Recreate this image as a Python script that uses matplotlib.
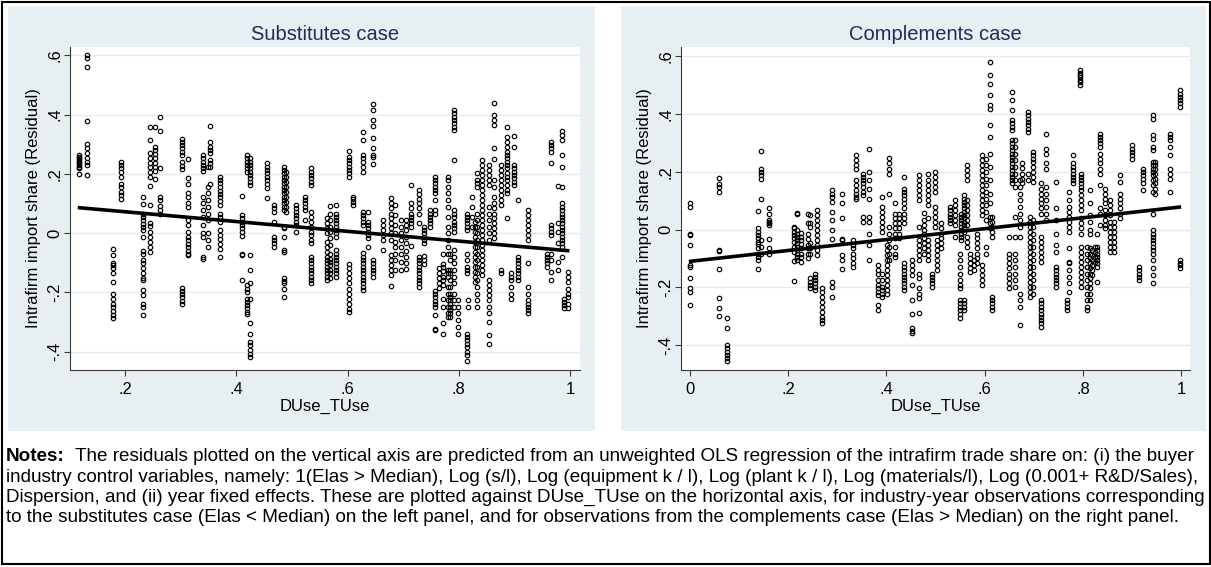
import numpy as np
import matplotlib
matplotlib.use('Agg')
import matplotlib.pyplot as plt
from matplotlib.patches import Rectangle

plt.rcParams['font.family'] = ['Liberation Sans', 'DejaVu Sans']

W, H = 1211, 567

# ---- substitutes case: x position of each vertical strip, and the residuals in it
sub_x = [0.118, 0.131, 0.179, 0.193, 0.232, 0.244, 0.254, 0.263, 0.302, 0.313,
         0.340, 0.349, 0.353, 0.371, 0.410, 0.419, 0.425, 0.455, 0.467, 0.486,
         0.490, 0.508, 0.523, 0.534, 0.563, 0.569, 0.580, 0.603, 0.610, 0.627,
         0.637, 0.645, 0.663, 0.678, 0.685, 0.697, 0.705, 0.715, 0.728, 0.737,
         0.748, 0.757, 0.764, 0.772, 0.780, 0.784, 0.791, 0.799, 0.814, 0.817,
         0.823, 0.829, 0.833, 0.841, 0.854, 0.864, 0.876, 0.887, 0.894, 0.900,
         0.906, 0.924, 0.958, 0.966, 0.978, 0.986, 0.989, 0.997]
sub_y = [
    [0.263, 0.257, 0.252, 0.246, 0.241, 0.235, 0.230, 0.224, 0.218, 0.199],
    [0.601, 0.590, 0.562, 0.378, 0.300, 0.286, 0.269, 0.254, 0.241, 0.230, 0.196],
    [-0.052, -0.074, -0.100, -0.108, -0.119, -0.134, -0.164, -0.204, -0.221, -0.238, -0.249, -0.262, -0.277, -0.288],
    [0.241, 0.230, 0.218, 0.207, 0.190, 0.165, 0.154, 0.140, 0.128, 0.114],
    [0.123, 0.098, 0.066, 0.055, 0.044, 0.030, 0.019, 0.010, -0.012, -0.060, -0.071, -0.091, -0.102, -0.119, -0.136, -0.153, -0.159, -0.193, -0.210, -0.238, -0.249, -0.277],
    [0.357, 0.314, 0.269, 0.252, 0.238, 0.224, 0.207, 0.190, 0.159, 0.095, 0.033, 0.024, 0.005, -0.012, -0.029, -0.046, -0.063],
    [0.359, 0.292, 0.280, 0.267, 0.252, 0.235, 0.224, 0.211, 0.181],
    [0.393, 0.346, 0.221, 0.123, 0.111, 0.091, 0.078, 0.066],
    [0.318, 0.309, 0.297, 0.286, 0.273, 0.264, 0.239, 0.226, 0.215, -0.184, -0.195, -0.206, -0.217, -0.229, -0.240],
    [0.249, 0.185, 0.166, 0.136, 0.123, 0.100, 0.089, 0.044, 0.027, 0.004, -0.012, -0.024, -0.037, -0.048, -0.060, -0.069, -0.074],
    [0.263, 0.252, 0.241, 0.230, 0.218, 0.211, 0.123, 0.102, 0.078, 0.055, 0.027, -0.001, -0.012, -0.080, -0.086],
    [0.224, 0.157, 0.134, 0.111, 0.089, 0.066, 0.044, -0.001, -0.024, -0.046],
    [0.361, 0.309, 0.292, 0.280, 0.269, 0.247, 0.235, 0.222, 0.165],
    [0.188, 0.179, 0.168, 0.157, 0.143, 0.132, 0.123, 0.109, 0.095, 0.066, 0.055, 0.038, 0.012, -0.007, -0.021, -0.037, -0.052, -0.080],
    [0.125, 0.061, 0.050, 0.038, 0.027, 0.016, 0.004, -0.010, -0.069, -0.074, -0.159],
    [0.263, 0.252, 0.241, 0.230, 0.218, 0.207, -0.176, -0.187, -0.198, -0.221, -0.232, -0.243, -0.254, -0.266, -0.274],
    [0.252, 0.241, 0.230, 0.218, 0.207, 0.196, 0.185, 0.173, 0.162, -0.074, -0.125, -0.168, -0.221, -0.305, -0.339, -0.367, -0.378, -0.395, -0.407, -0.418],
    [0.235, 0.224, 0.213, 0.202, 0.190, 0.179, 0.165, 0.151, 0.117],
    [0.095, 0.083, 0.072, 0.038, -0.012, -0.024, -0.035, -0.046],
    [0.224, 0.213, 0.202, 0.190, 0.179, 0.168, 0.157, 0.145, 0.134, 0.123, 0.111, 0.100, 0.089, 0.078, 0.021, 0.016, -0.012, -0.057, -0.063, -0.153, -0.161, -0.170, -0.187, -0.215],
    [0.207, 0.190, 0.173, 0.157, 0.140, 0.123, 0.106, 0.089, 0.072],
    [0.095, 0.083, 0.072, 0.061, 0.050, 0.038, 0.027, 0.004],
    [0.123, 0.111, 0.100, 0.089, 0.078, 0.044],
    [0.218, 0.207, 0.196, 0.185, 0.173, 0.162, 0.072, 0.055, 0.038, 0.021, 0.004, -0.007, -0.024, -0.035, -0.080, -0.091, -0.102, -0.114, -0.125, -0.136, -0.147, -0.159, -0.170],
    [0.050, 0.033, 0.016, -0.001, -0.029, -0.046, -0.063, -0.080, -0.091, -0.102, -0.114, -0.125, -0.136, -0.147, -0.159],
    [0.092, 0.066, 0.044, 0.021, 0.004, -0.018, -0.041, -0.069, -0.086, -0.097, -0.108, -0.125, -0.136, -0.150],
    [0.095, 0.066, 0.055, 0.044, 0.033, 0.021, 0.010, -0.001, -0.012, -0.057, -0.069, -0.080, -0.091, -0.102, -0.114, -0.125, -0.136, -0.147],
    [0.278, 0.258, 0.247, 0.235, 0.224, 0.213, 0.202, 0.190, -0.105, -0.119, -0.136, -0.153, -0.170, -0.187, -0.204, -0.221, -0.238, -0.255, -0.266],
    [0.123, 0.114, 0.105, 0.096],
    [0.342, 0.314, 0.263, 0.252, 0.241, 0.224, 0.207, 0.072, 0.061, 0.050, 0.038, 0.027, -0.066, -0.080, -0.091, -0.102, -0.114, -0.125, -0.136, -0.147, -0.159, -0.170, -0.181, -0.193],
    [0.072, 0.038, 0.027, 0.016, 0.004, -0.007, -0.018, -0.046],
    [0.436, 0.416, 0.382, 0.362, 0.320, 0.286, 0.263, 0.258, 0.233, -0.091, -0.102, -0.114, -0.125, -0.136, -0.147],
    [0.044, 0.027, 0.010, -0.007, -0.024, -0.057],
    [0.117, 0.100, 0.083, 0.066, 0.050, 0.033, 0.016, -0.001, -0.024, -0.074, -0.091, -0.108, -0.125, -0.142, -0.179],
    [0.095, 0.061, 0.027, -0.001, -0.029, -0.046, -0.069, -0.091, -0.125],
    [0.044, 0.021, -0.001, -0.024, -0.046, -0.069, -0.097, -0.125],
    [0.044, 0.027, 0.010, -0.012, -0.035, -0.060, -0.080, -0.100, -0.120],
    [0.162, 0.100, 0.083, 0.066, 0.055, 0.044, 0.033, 0.021, -0.044],
    [0.147, 0.132, 0.114, 0.100, 0.083, 0.066, 0.035, -0.080, -0.091, -0.102, -0.114, -0.125, -0.136, -0.147, -0.159, -0.170, -0.181],
    [0.021, 0.010, -0.001, -0.012, -0.024, -0.035, -0.078, -0.091, -0.105],
    [0.078, 0.066, 0.055, 0.044, 0.033, 0.021],
    [0.190, 0.179, 0.168, 0.157, 0.145, 0.134, 0.111, 0.078, 0.066, -0.195, -0.206, -0.217, -0.229, -0.240, -0.251, -0.277, -0.322, -0.328],
    [-0.119, -0.136, -0.153, -0.170, -0.184],
    [-0.069, -0.105, -0.116, -0.127, -0.147, -0.159, -0.176, -0.221, -0.249, -0.305, -0.341],
    [0.190, 0.179, 0.157, 0.134, 0.111, 0.089, 0.055, 0.021, -0.001, -0.024, -0.046, -0.069, -0.125, -0.136, -0.147, -0.181, -0.204, -0.226, -0.249, -0.271, -0.283],
    [-0.069, -0.091, -0.125, -0.136, -0.159, -0.181, -0.204, -0.215, -0.226, -0.238, -0.249, -0.260, -0.271, -0.283],
    [0.416, 0.404, 0.393, 0.382, 0.371, 0.359, 0.348, 0.247, 0.078, 0.066, 0.055, 0.038, 0.027, 0.016, 0.004, -0.057, -0.080, -0.102, -0.125, -0.147, -0.170, -0.204, -0.226, -0.249],
    [-0.226, -0.249, -0.271, -0.294, -0.316, -0.339],
    [0.066, 0.055, 0.044, 0.033, 0.021, 0.010, -0.069, -0.091, -0.114, -0.125, -0.136, -0.339, -0.350, -0.361, -0.373, -0.384, -0.401, -0.412, -0.431],
    [-0.226, -0.249],
    [0.123, 0.089, 0.055, 0.021],
    [0.038, 0.021, 0.004, -0.012, -0.029, -0.046, -0.063, -0.080, -0.097, -0.114, -0.131, -0.147, -0.164],
    [0.202, 0.179, 0.168, 0.157, 0.066, 0.044, 0.021, -0.001, -0.024, -0.046, -0.069, -0.091, -0.114, -0.136, -0.159, -0.181, -0.204, -0.226, -0.249],
    [0.247, 0.230, 0.213, 0.196, 0.179, 0.162, 0.145, 0.128, 0.111, 0.095, 0.078, 0.061, 0.044, 0.027, 0.010, -0.007, -0.024, -0.041, -0.057, -0.074, -0.091, -0.108, -0.125, -0.142],
    [0.230, 0.213, 0.196, 0.179, 0.162, 0.089, 0.066, 0.044, 0.021, -0.001, -0.024, -0.159, -0.176, -0.193, -0.209, -0.226, -0.249, -0.271, -0.300, -0.345, -0.373],
    [0.440, 0.399, 0.382, 0.365, 0.286, 0.249, 0.179, 0.157, 0.123, 0.100, 0.083, 0.066, 0.050, 0.033, 0.016, -0.001, -0.018],
    [0.230, 0.213, 0.196, 0.179, 0.162, 0.145, 0.128, 0.111, 0.095, -0.125, -0.136],
    [0.357, 0.325, 0.308, 0.292, 0.275, 0.264, 0.252, 0.241, 0.230, 0.218, 0.202, 0.190, 0.179, 0.162, 0.145, 0.134, 0.050],
    [-0.136, -0.147, -0.159, -0.181, -0.204, -0.221],
    [0.328, 0.292, 0.230, 0.218, 0.207, 0.196, 0.185, 0.173, 0.162],
    [0.111, -0.080, -0.091, -0.102, -0.114, -0.125, -0.136, -0.147, -0.159],
    [0.078, 0.061, 0.044, 0.027, 0.010, -0.007, -0.024, -0.102, -0.181, -0.204, -0.226, -0.238, -0.249, -0.260, -0.271],
    [-0.069, -0.080, -0.091, -0.102, -0.114],
    [0.309, 0.297, 0.286, 0.275, 0.235, 0.027, 0.016, 0.004, -0.007, -0.069, -0.091, -0.131, -0.159],
    [0.159, 0.035, 0.004, -0.035, -0.097, -0.125],
    [0.346, 0.331, 0.314, 0.263, 0.224, 0.157, 0.100, 0.089, 0.078, 0.066, 0.055, 0.044, 0.033, 0.021, 0.010, -0.001, -0.012, -0.024, -0.035, -0.046, -0.080],
    [-0.221, -0.232, -0.243, -0.254],
    [-0.131, -0.147, -0.164, -0.187, -0.204, -0.215, -0.238, -0.254],
]
sub_fit = (0.105, -0.165)   # intercept, slope of the drawn fitted line

# ---- complements case
comp_x = [0.001, 0.060, 0.075, 0.139, 0.145, 0.162, 0.211, 0.219, 0.226, 0.240,
          0.245, 0.254, 0.258, 0.268, 0.289, 0.310, 0.333, 0.338, 0.353, 0.365,
          0.383, 0.391, 0.401, 0.406, 0.417, 0.425, 0.435, 0.453, 0.467, 0.476,
          0.484, 0.493, 0.499, 0.504, 0.512, 0.529, 0.539, 0.549, 0.552, 0.557,
          0.564, 0.571, 0.578, 0.585, 0.594, 0.603, 0.611, 0.614, 0.649, 0.655,
          0.661, 0.673, 0.677, 0.688, 0.693, 0.698, 0.714, 0.715, 0.724, 0.746,
          0.767, 0.771, 0.780, 0.795, 0.797, 0.808, 0.815, 0.819, 0.824, 0.829,
          0.835, 0.846, 0.856, 0.863, 0.875, 0.900, 0.915, 0.923, 0.942, 0.947,
          0.977, 0.998]
comp_y = [
    [0.090, 0.078, -0.017, -0.019, -0.054, -0.123, -0.129, -0.169, -0.203, -0.215, -0.261],
    [0.179, 0.156, 0.147, 0.128, -0.071, -0.073, -0.137, -0.238, -0.270, -0.299],
    [-0.307, -0.341, -0.399, -0.410, -0.422, -0.433, -0.445, -0.453],
    [0.064, 0.004, -0.008, -0.020, -0.031, -0.043, -0.051, -0.065, -0.083, -0.094, -0.106, -0.138],
    [0.270, 0.210, 0.199, 0.187, 0.176, 0.104, -0.037, -0.060, -0.083],
    [0.073, 0.055, 0.032, 0.027, 0.021, 0.015, -0.034, -0.065, -0.083],
    [0.009, 0.004, -0.008, -0.020, -0.031, -0.043, -0.060, -0.077, -0.108, -0.177],
    [0.058, 0.055, -0.002, -0.014, -0.025, -0.037, -0.048, -0.060, -0.071, -0.083, -0.094, -0.106],
    [-0.011, -0.025, -0.037, -0.050, -0.065, -0.083, -0.094, -0.111],
    [0.055, 0.021, -0.014, -0.034, -0.054, -0.065, -0.083, -0.100],
    [0.050, 0.023, 0.009, -0.048, -0.065, -0.083, -0.169, -0.180, -0.192, -0.203],
    [-0.152, -0.163, -0.175, -0.186, -0.198, -0.209],
    [0.067, 0.050, 0.033, 0.015, -0.002, -0.019, -0.036, -0.054, -0.071, -0.088],
    [-0.203, -0.215, -0.232, -0.249, -0.267, -0.284, -0.301, -0.313, -0.324],
    [0.136, 0.124, 0.113, 0.096, 0.061, 0.032, -0.002, -0.034, -0.180, -0.198, -0.234],
    [0.124, 0.090, 0.038, -0.034, -0.037, -0.088, -0.106, -0.138],
    [-0.037, -0.054, -0.065, -0.083, -0.100, -0.117, -0.129],
    [0.256, 0.239, 0.222, 0.210, 0.170, 0.153, 0.136, 0.124, 0.113, 0.104],
    [0.193, 0.182, 0.170, 0.159, 0.147, 0.130, 0.119, 0.044, 0.027],
    [0.279, 0.199, 0.170, 0.141, 0.104, 0.044, 0.027, -0.016, -0.054, -0.106],
    [-0.123, -0.140, -0.152, -0.175, -0.192, -0.203, -0.215, -0.226, -0.261, -0.278],
    [0.113, 0.078, 0.061, 0.044, 0.027, 0.009, -0.008, -0.152, -0.175, -0.198, -0.209, -0.221, -0.232],
    [-0.054, -0.071, -0.088, -0.106, -0.123, -0.140, -0.157, -0.175, -0.192, -0.209, -0.221],
    [0.248, 0.228, 0.210, 0.193, 0.124, 0.009, -0.014, -0.037, -0.060, -0.083, -0.106],
    [0.090, 0.055, 0.038, 0.021, 0.004, -0.014, -0.031, -0.060, -0.083, -0.094],
    [0.055, 0.038, 0.021, 0.004, -0.014, -0.031],
    [0.182, 0.141, 0.130, 0.119, 0.107, 0.090, 0.073, 0.055, 0.038, 0.021, -0.117, -0.129, -0.140, -0.152, -0.163, -0.175, -0.186, -0.198, -0.209],
    [-0.106, -0.123, -0.140, -0.157, -0.192, -0.244, -0.290, -0.341, -0.349, -0.358],
    [0.188, 0.170, 0.153, 0.136, 0.119, 0.101, 0.009, -0.037, -0.054, -0.071, -0.088, -0.106, -0.152, -0.169, -0.203, -0.221, -0.238, -0.287],
    [0.058, 0.032, 0.015, -0.002, -0.014, -0.031, -0.048, -0.065, -0.083],
    [0.193, 0.170, 0.153, 0.136, 0.119, 0.101, 0.084, 0.038, -0.037, -0.054, -0.071, -0.088, -0.106],
    [-0.152, -0.163, -0.175, -0.186, -0.198],
    [0.199, 0.182, 0.164, 0.147, 0.130, 0.078, 0.061, 0.044, 0.027, 0.009],
    [-0.037, -0.054, -0.071, -0.088, -0.106, -0.123, -0.140],
    [0.021, 0.004, -0.014, -0.031, -0.048, -0.065],
    [0.078, 0.067, 0.055, 0.044, 0.032, 0.021],
    [0.101, 0.084, 0.067, 0.050, 0.032, 0.015, -0.025],
    [-0.083, -0.106, -0.129, -0.152, -0.175, -0.192, -0.203, -0.244, -0.255, -0.267, -0.278, -0.290, -0.307],
    [0.055, 0.044, 0.032, 0.021, 0.009, -0.002, -0.014, -0.025, -0.037],
    [0.119, 0.107, 0.096, 0.084, 0.073, 0.061, 0.050, 0.038, 0.027, 0.015, 0.004, -0.008, -0.244, -0.255, -0.267, -0.278],
    [0.222, 0.205, 0.187, 0.170, 0.101, 0.084, 0.067, 0.050, 0.032, 0.015, -0.025, -0.042, -0.060],
    [-0.083, -0.100, -0.117, -0.134, -0.146],
    [-0.106, -0.123, -0.140],
    [-0.014, -0.031, -0.048, -0.065, -0.083, -0.100, -0.117],
    [0.256, 0.239, 0.222, 0.205, 0.187, 0.170, 0.153, 0.136, 0.119, 0.101, 0.084, 0.067, 0.050, -0.123, -0.140, -0.157, -0.175, -0.192],
    [0.245, 0.222, 0.199, 0.176, 0.153, 0.130, 0.107, 0.084, 0.061, 0.032, -0.060, -0.083],
    [0.578, 0.532, 0.503, 0.463, 0.429, 0.417, 0.360, 0.320, 0.262, 0.216, 0.170, 0.124, 0.090, 0.044, 0.021, 0.004],
    [0.044, 0.027, 0.009, -0.008, -0.025, -0.232, -0.244, -0.255, -0.267, -0.278],
    [-0.025, -0.083, -0.100, -0.117, -0.134, -0.152, -0.169, -0.186, -0.203],
    [0.475, 0.446, 0.412, 0.377, 0.366, 0.354, 0.343, 0.308, 0.297, 0.285, 0.274, 0.262, 0.251, 0.239, 0.228, 0.216, 0.205, 0.193, 0.182, 0.170, 0.159],
    [0.308, 0.285, 0.262, 0.239, 0.216, 0.193, 0.170, 0.147, 0.044, -0.025, -0.083, -0.106, -0.129, -0.152, -0.175, -0.198],
    [0.170, 0.147, 0.124, 0.101, 0.078, 0.055, 0.032, 0.009, -0.025, -0.221, -0.244, -0.267, -0.330],
    [0.228, 0.211, 0.193, 0.176, 0.159],
    [0.406, 0.394, 0.383, 0.371, 0.360, 0.348, 0.337, 0.193, 0.170],
    [0.044, 0.027, 0.009, -0.008, -0.025, -0.043, -0.060, -0.077, -0.094, -0.111, -0.129, -0.146, -0.163, -0.180, -0.198, -0.215, -0.232],
    [0.268, 0.256, 0.245, 0.233, 0.216, 0.199, 0.182, 0.164, 0.032, 0.009, -0.014, -0.037, -0.060, -0.083, -0.106, -0.129, -0.152, -0.175, -0.198, -0.221],
    [-0.244, -0.255, -0.267, -0.278, -0.290, -0.301, -0.313, -0.324, -0.336],
    [0.159, 0.141, 0.124, 0.107, 0.090, 0.073, 0.055, -0.025, -0.043, -0.060, -0.077, -0.094, -0.111],
    [0.331, 0.279, 0.262, 0.228, 0.210, 0.147, 0.124, 0.101, 0.078, 0.055, 0.032],
    [0.164, 0.073, 0.032, -0.014, -0.054, -0.077, -0.129, -0.140, -0.152, -0.163, -0.175, -0.186, -0.198],
    [-0.244, -0.255, -0.267, -0.278],
    [0.130, 0.101, 0.078, 0.061, 0.044, 0.027, 0.009, -0.008, -0.065, -0.111, -0.117, -0.140, -0.163, -0.186, -0.215],
    [0.256, 0.228, 0.216, 0.205, 0.193, 0.182, 0.170, 0.159],
    [0.549, 0.541, 0.533, 0.525, 0.517, 0.509, 0.498],
    [0.193, 0.182, 0.170, 0.159, 0.147, 0.136, 0.119, 0.101, 0.084, 0.067, 0.038, 0.021, 0.004, -0.014, -0.060, -0.077, -0.094, -0.111, -0.129, -0.146, -0.163, -0.180, -0.198],
    [-0.060, -0.083, -0.106, -0.129, -0.152, -0.175, -0.198, -0.221, -0.244, -0.267, -0.278],
    [0.136, 0.090, 0.050, 0.027, -0.002, -0.014, -0.065, -0.083, -0.100, -0.117, -0.134, -0.152, -0.169, -0.186, -0.203, -0.221, -0.244],
    [-0.071, -0.088, -0.106, -0.123, -0.140, -0.157],
    [-0.060, -0.077, -0.094, -0.111],
    [-0.014, -0.060, -0.071, -0.083, -0.094, -0.106, -0.117, -0.129, -0.180],
    [0.331, 0.320, 0.308, 0.297, 0.285, 0.262, 0.245, 0.228, 0.210, 0.193, 0.153, 0.073, 0.055, 0.015],
    [0.141, 0.124, 0.107, 0.090, 0.067, 0.050, 0.032, 0.015, 0.004],
    [0.101, 0.084, 0.067, 0.050, 0.027, 0.009, -0.008, -0.025, -0.043, -0.060, -0.077],
    [0.027, 0.009, -0.008, -0.025, -0.043, -0.060, -0.077],
    [0.188, 0.165, 0.124, 0.107, 0.090, 0.073, 0.055, 0.038],
    [0.291, 0.279, 0.268, 0.256, 0.245],
    [-0.129, -0.140, -0.152, -0.163, -0.175],
    [0.210, 0.199, 0.187, 0.176, 0.159, 0.136],
    [0.394, 0.383, 0.325, 0.314, 0.285, 0.274, 0.233, 0.222, 0.210, 0.199, 0.187, 0.170, 0.153, 0.130, 0.055, -0.002, -0.014, -0.025, -0.037, -0.048, -0.060, -0.071, -0.083, -0.106, -0.134, -0.157, -0.186],
    [0.233, 0.222, 0.210, 0.193, 0.176, 0.159, 0.141, 0.124],
    [0.331, 0.320, 0.308, 0.285, 0.256, 0.210, 0.193, 0.176, 0.130],
    [0.481, 0.469, 0.458, 0.446, 0.435, 0.423, -0.106, -0.115, -0.124, -0.133],
]
comp_fit = (-0.110, 0.188)

ytick_vals = [-0.4, -0.2, 0, 0.2, 0.4, 0.6]
ytick_labels = ['-.4', '-.2', '0', '.2', '.4', '.6']
sub_xticks = [0.2, 0.4, 0.6, 0.8, 1.0]
sub_xlabels = ['.2', '.4', '.6', '.8', '1']
comp_xticks = [0, 0.2, 0.4, 0.6, 0.8, 1.0]
comp_xlabels = ['0', '.2', '.4', '.6', '.8', '1']

notes_rest = '  The residuals plotted on the vertical axis are predicted from an unweighted OLS regression of the intrafirm trade share on: (i) the buyer'
notes_lines = [
    'industry control variables, namely: 1(Elas > Median), Log (s/l), Log (equipment k / l), Log (plant k / l), Log (materials/l), Log (0.001+ R&D/Sales),',
    'Dispersion, and (ii) year fixed effects. These are plotted against DUse_TUse on the horizontal axis, for industry-year observations corresponding',
    'to the substitutes case (Elas < Median) on the left panel, and for observations from the complements case (Elas > Median) on the right panel.',
]

BG = '#e8eff2'
GRID = '#e3ecef'
TITLE_C = '#1f2d5c'


def box(x0, y0, x1, y1):
    # pixel box, origin top-left -> figure fraction rect
    return [x0 / W, 1 - y1 / H, (x1 - x0) / W, (y1 - y0) / H]


def expand(xs, ys):
    x = np.concatenate([[v] * len(c) for v, c in zip(xs, ys)])
    y = np.concatenate([np.asarray(c) for c in ys])
    return x, y


def panel(ax, xs, ys, fit, title, xlim, ylim, xticks, xlabels):
    x, y = expand(xs, ys)
    ax.set_facecolor('white')
    ax.set_axisbelow(True)
    ax.grid(axis='y', color=GRID, lw=1.0)
    ax.plot(x, y, ls='none', marker='o', ms=3.2, mfc='none', mec='black', mew=0.85, zorder=2)
    xx = np.array([x.min() - 0.003, x.max() + 0.002])
    ax.plot(xx, fit[0] + fit[1] * xx, color='black', lw=2.6, zorder=3, solid_capstyle='butt')
    ax.set_xlim(*xlim)
    ax.set_ylim(*ylim)
    ax.set_xticks(xticks)
    ax.set_xticklabels(xlabels)
    ax.set_yticks(ytick_vals)
    ax.set_yticklabels(ytick_labels, rotation=90, va='center')
    for s in ['top', 'right']:
        ax.spines[s].set_visible(False)
    for s in ['left', 'bottom']:
        ax.spines[s].set_color('#3a3a3a')
        ax.spines[s].set_linewidth(0.8)
    ax.tick_params(axis='both', length=4.3, width=0.8, color='#3a3a3a', labelsize=12)
    ax.tick_params(axis='x', pad=4.5)
    ax.tick_params(axis='y', pad=1)
    ax.set_xlabel('DUse_TUse', fontsize=12, labelpad=1)
    ax.set_ylabel('Intrafirm import share (Residual)', fontsize=12, labelpad=5)
    ax.set_title(title, fontsize=14.5, color=TITLE_C, pad=5)


fig = plt.figure(figsize=(W / 100, H / 100), dpi=100)
fig.patch.set_facecolor('white')

for x0, x1 in [(8, 595), (621, 1206)]:
    r = box(x0, 6, x1, 431)
    fig.add_artist(Rectangle((r[0], r[1]), r[2], r[3], transform=fig.transFigure,
                             facecolor=BG, edgecolor='none', zorder=0))
r = box(1.5, 1.5, 1209.5, 563.5)
fig.add_artist(Rectangle((r[0], r[1]), r[2], r[3], transform=fig.transFigure,
                         fill=False, edgecolor='black', lw=1.5, zorder=5))

ax1 = fig.add_axes(box(70, 47, 580, 370))
ax2 = fig.add_axes(box(681, 47, 1190, 370))
panel(ax1, sub_x, sub_y, sub_fit, 'Substitutes case', (0.101, 1.018), (-0.462, 0.628),
      sub_xticks, sub_xlabels)
panel(ax2, comp_x, comp_y, comp_fit, 'Complements case', (-0.018, 1.018), (-0.485, 0.63),
      comp_xticks, comp_xlabels)

# notes under the panels
note_ax = fig.add_axes([0, 0, 1, 1], zorder=-1)
note_ax.axis('off')
fs = 13.55
baselines = [461, 481.5, 502, 522.5]
head = note_ax.text(6 / W, 1 - baselines[0] / H, 'Notes:', fontweight='bold', fontsize=fs,
                    va='baseline', transform=fig.transFigure)
note_ax.annotate(notes_rest, xy=(1, 0), xycoords=head, va='bottom', fontsize=fs)
for yb, line in zip(baselines[1:], notes_lines):
    note_ax.text(6 / W, 1 - yb / H, line, fontsize=fs, va='baseline', transform=fig.transFigure)

fig.savefig('out.png', dpi=100, facecolor='white')
